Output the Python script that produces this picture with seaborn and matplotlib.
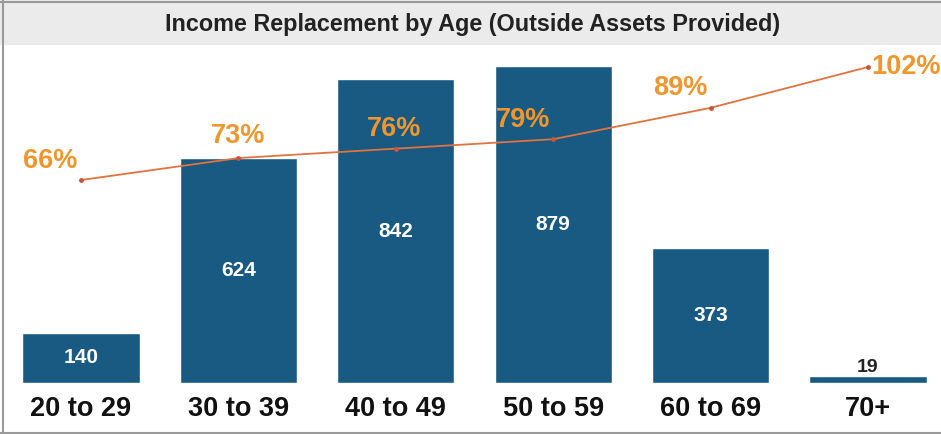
import numpy as np
import pandas as pd
import matplotlib
matplotlib.use("Agg")
import matplotlib.pyplot as plt
from matplotlib.patches import Rectangle
from matplotlib.lines import Line2D
import seaborn as sns

# Data
age_groups = ["20 to 29", "30 to 39", "40 to 49", "50 to 59", "60 to 69", "70+"]
participants = [140, 624, 842, 879, 373, 19]
replacement_pct = [66, 73, 76, 79, 89, 102]

# Label offsets for the percentage annotations (points)
pct_offsets = [(-22, 14), (0, 16), (-1, 14), (-22, 14), (-22, 14), (2, 0)]
pct_align = ["center", "center", "center", "center", "center", "left"]

sns.set_theme(style="white")
plt.rcParams["font.family"] = ["Liberation Sans", "DejaVu Sans"]

BAR = "#185a82"
LINE = "#e0733f"
LABEL = "#f0962c"

W, H = 941, 434
fig = plt.figure(figsize=(W / 100, H / 100), dpi=100)
fig.patch.set_facecolor("white")

# Title band
fig.patches.append(Rectangle((0, 1 - 45 / H), 1, 45 / H, transform=fig.transFigure,
                             facecolor="#ebebeb", edgecolor="none", zorder=0))
fig.text(0.502, 1 - 25 / H, "Income Replacement by Age (Outside Assets Provided)",
         ha="center", va="center", fontsize=16.8, fontweight="bold", color="#222222")

# Frame lines
for xs, ys in [([2.5 / W, 2.5 / W], [0, 1]), ([0, 1], [1.5 / H, 1.5 / H]), ([0, 1], [1 - 1.5 / H, 1 - 1.5 / H])]:
    fig.lines.append(Line2D(xs, ys, transform=fig.transFigure, color="#9a9a9a", lw=1.5))

ax = fig.add_axes([0, (H - 383) / H, 1, (383 - 50) / H])
df = pd.DataFrame({"age": age_groups, "count": participants})
sns.barplot(data=df, x="age", y="count", color=BAR, saturation=1, width=0.745, ax=ax)

ax.set_xlim(-81 / 157.4, (W - 81) / 157.4)
ax.set_ylim(0, 333 / 0.3606)
ax.set_xlabel("")
ax.set_ylabel("")
ax.set_yticks([])
ax.tick_params(axis="x", length=0, pad=9, labelsize=19.5)
for lab in ax.get_xticklabels():
    lab.set_fontweight("bold")
    lab.set_color("#111111")
for s in ax.spines.values():
    s.set_visible(False)
ax.patch.set_alpha(0)

# Bar value labels
for i, v in enumerate(participants):
    if v >= 60:
        ax.text(i, v / 2, f"{v}", ha="center", va="center", fontsize=15,
                fontweight="bold", color="white")
    else:
        ax.annotate(f"{v}", (i, v), xytext=(0, 0), textcoords="offset points",
                    ha="center", va="bottom", fontsize=14, fontweight="bold", color="#222222")

# Replacement ratio line on a secondary axis
ax2 = ax.twinx()
ax2.set_ylim((387.2 - 383) / 3.139, (387.2 - 50) / 3.139)
pos = np.arange(len(replacement_pct))
sns.lineplot(x=pos, y=replacement_pct, ax=ax2, color=LINE, lw=1.3, marker="o",
             markersize=3.5, markeredgewidth=0, markerfacecolor="#c8553a")
ax2.set_yticks([])
ax2.set_ylabel("")
for s in ax2.spines.values():
    s.set_visible(False)

for i, p in enumerate(replacement_pct):
    dx, dy = pct_offsets[i]
    ax2.annotate(f"{p}%", (i, p), xytext=(dx, dy), textcoords="offset points",
                 ha=pct_align[i], va="center", fontsize=19.5, fontweight="bold", color=LABEL)

fig.savefig("out.png", dpi=100)
